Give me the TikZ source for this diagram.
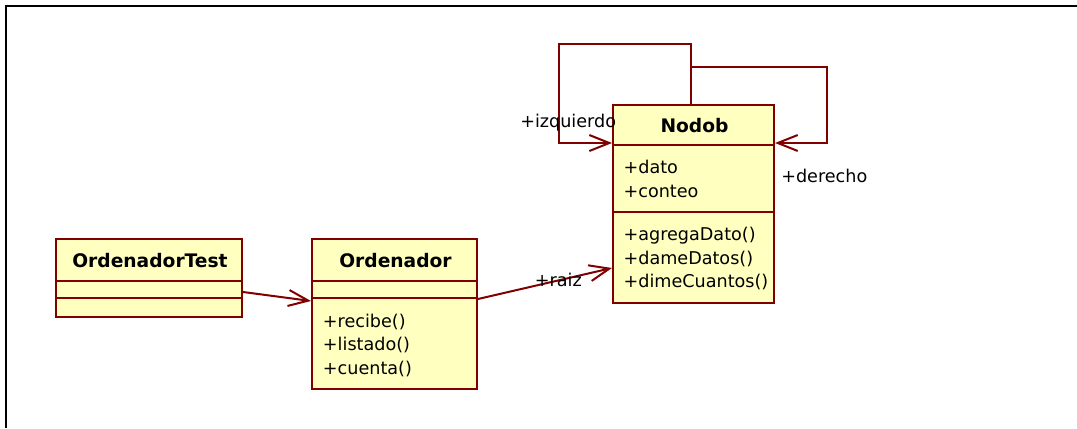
\documentclass[tikz,border=0pt]{standalone}
\usepackage{fontspec}
\setmainfont{DejaVu Sans}
\usepackage{tikz}
\usetikzlibrary{arrows.meta}
\definecolor{umlborde}{RGB}{128,0,0}
\definecolor{umlfondo}{RGB}{255,255,192}

\begin{document}
\begin{tikzpicture}[x=0.75pt, y=-0.75pt]
    % Define styles
    \tikzstyle{clase} = [rectangle, draw=umlborde, fill=umlfondo, line width=1.5pt, inner sep=0pt]
    \tikzstyle{titulo} = [anchor=base, inner sep=0pt, font=\fontsize{14}{16}\selectfont\bfseries]
    \tikzstyle{miembro} = [anchor=base west, inner sep=0pt, font=\fontsize{13.2}{15}\selectfont]
    \tikzstyle{rol} = [inner sep=0pt, font=\fontsize{13.2}{15}\selectfont]
    \tikzstyle{division} = [draw=umlborde, line width=1.5pt]
    \tikzstyle{asoc} = [draw=umlborde, line width=1.5pt, -{Straight Barb[length=15pt, width=12pt]}]
    \tikzstyle{marco} = [draw=black, line width=1.6pt]

    \useasboundingbox (0,0) rectangle (1077,428);
    \draw[marco] (5.7,428) |- (1077,6);

    % OrdenadorTest
    \node[clase, minimum width=139.5pt, minimum height=58.5pt] (test) at (149,278) {};
    \node[titulo] (testNombre) at (150,267) {OrdenadorTest};
    \draw[division] (test.west |- 0,281) -- (test.east |- 0,281);
    \draw[division] (test.west |- 0,298) -- (test.east |- 0,298);

    % Ordenador
    \node[clase, minimum width=123.75pt, minimum height=112.5pt] (ord) at (394.5,314) {};
    \node[titulo] (ordNombre) at (395.5,267) {Ordenador};
    \draw[division] (ord.west |- 0,281) -- (ord.east |- 0,281);
    \draw[division] (ord.west |- 0,298) -- (ord.east |- 0,298);
    \node[miembro] (recibe) at (322.7,327) {+recibe()};
    \node[miembro] (listado) at (322.7,350.5) {+listado()};
    \node[miembro] (cuenta) at (322.7,374) {+cuenta()};

    % Nodob
    \node[clase, minimum width=120.75pt, minimum height=148.5pt] (nodob) at (693.5,204) {};
    \node[titulo] (nodobNombre) at (694.5,132) {Nodob};
    \draw[division] (nodob.west |- 0,145) -- (nodob.east |- 0,145);
    \draw[division] (nodob.west |- 0,212) -- (nodob.east |- 0,212);
    \node[miembro] (dato) at (623.3,173) {+dato};
    \node[miembro] (conteo) at (623.3,197) {+conteo};
    \node[miembro] (agrega) at (623.3,240.5) {+agregaDato()};
    \node[miembro] (dame) at (623.3,264) {+dameDatos()};
    \node[miembro] (dime) at (623.3,287) {+dimeCuantos()};

    % Associations
    \draw[asoc] (test.east |- 0,292) -- (ord.west |- 0,301);
    \draw[asoc] (ord.east |- 0,299) -- node[rol, pos=0.6] (lraiz) {+raiz} (nodob.west |- 0,268);
    \coordinate (salida) at (nodob.north -| 691,0);
    \draw[asoc] (salida) |- (559,44) |- (nodob.west |- 0,143);
    \draw[asoc] (salida) |- (827,67) |- (nodob.east |- 0,143);
    \node[rol, anchor=base west] (lizq) at (520,127) {+izquierdo};
    \node[rol, anchor=base west] (lder) at (781,182) {+derecho};

\end{tikzpicture}
\end{document}
